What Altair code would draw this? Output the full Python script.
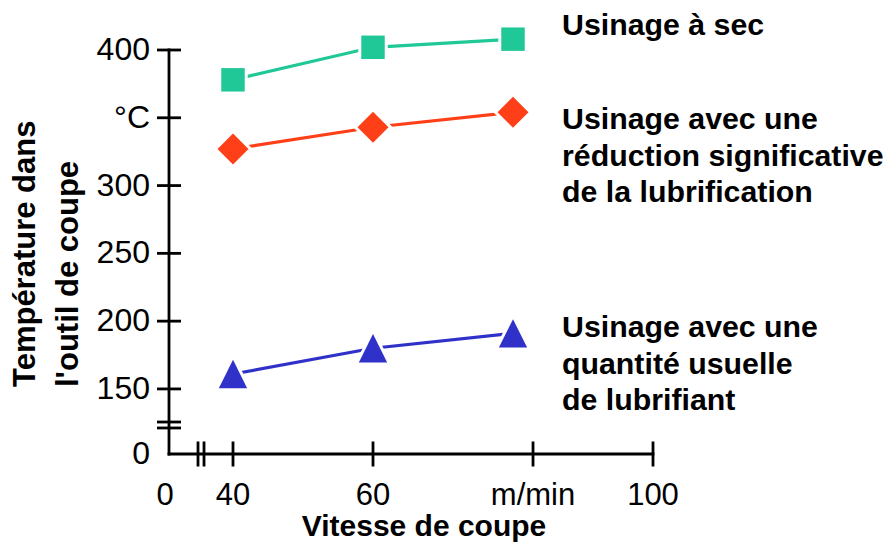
import altair as alt
import pandas as pd

# ---- data ----
SPEEDS = [40, 60, 80]
TEMP_DRY = [378, 402, 408]
TEMP_REDUCED = [327, 343, 354]
TEMP_USUAL = [161, 180, 191]
SERIES = ["sec", "reduite", "usuelle"]
COLORS = ["#1fc896", "#ff3f17", "#2f31c9"]
SHAPES = ["square", "diamond", "M0,-1L1,1L-1,1Z"]
SIZES = [550, 961, 800]

X_MIN, X_MAX = 30.857, 100
Y_MIN, Y_MAX = 102, 400

Y_TICKS = [150, 200, 250, 300, 350, 400]
Y_TICK_LABELS = ["150", "200", "250", "300", "°C", "400"]
X_TICKS = [40, 60, 82.86, 100]
X_LABEL_POS = [30.3, 40, 60, 82.86, 100]
X_LABELS = ["0", "40", "60", "m/min", "100"]
Y_BREAK = [125.6, 121.2]
X_BREAK = [35.0, 35.86]

FONT = "Liberation Sans"

xs = alt.Scale(domain=[X_MIN, X_MAX], nice=False, zero=False)
ys = alt.Scale(domain=[Y_MIN, Y_MAX], nice=False, zero=False)


def X(f):
    return alt.X(f, type="quantitative", scale=xs, axis=None)


def Y(f):
    return alt.Y(f, type="quantitative", scale=ys, axis=None)


rows = []
for s, temps in zip(SERIES, [TEMP_DRY, TEMP_REDUCED, TEMP_USUAL]):
    for v, t in zip(SPEEDS, temps):
        rows.append({"series": s, "speed": v, "temp": t})
df = pd.DataFrame(rows)

layers = []

# axis lines
axis_df = pd.DataFrame({"x": [X_MIN], "x2": [X_MAX], "y": [Y_MIN], "y2": [Y_MAX]})
layers.append(alt.Chart(axis_df).mark_rule(color="black", strokeWidth=2.8, strokeCap="square")
              .encode(x=X("x"), y=Y("y"), y2=alt.Y2("y2")))
layers.append(alt.Chart(axis_df).mark_rule(color="black", strokeWidth=2.8, strokeCap="square")
              .encode(x=X("x"), x2=alt.X2("x2"), y=Y("y")))

# y ticks and break marks (crossing the axis)
yt_df = pd.DataFrame({"x": [X_MIN] * (len(Y_TICKS) + len(Y_BREAK)), "v": Y_TICKS + Y_BREAK})
layers.append(alt.Chart(yt_df).mark_tick(orient="horizontal", size=24, thickness=2.8,
                                         color="black", opacity=1)
              .encode(x=X("x"), y=Y("v")))
# x ticks and break marks
xt_df = pd.DataFrame({"y": [Y_MIN] * (len(X_TICKS) + len(X_BREAK)), "v": X_TICKS + X_BREAK})
layers.append(alt.Chart(xt_df).mark_tick(orient="vertical", size=25, thickness=2.8,
                                         color="black", opacity=1)
              .encode(x=X("v"), y=Y("y")))

# tick labels
yl_df = pd.DataFrame({"x": [X_MIN] * (len(Y_TICKS) + 1), "v": Y_TICKS + [Y_MIN],
                      "label": Y_TICK_LABELS + ["0"]})
layers.append(alt.Chart(yl_df).mark_text(align="right", baseline="middle", dx=-19,
                                         font=FONT, fontSize=32, color="black")
              .encode(x=X("x"), y=Y("v"), text="label:N"))
xl_df = pd.DataFrame({"y": [Y_MIN] * len(X_LABEL_POS), "v": X_LABEL_POS, "label": X_LABELS})
layers.append(alt.Chart(xl_df).mark_text(align="center", baseline="alphabetic", dy=51,
                                         font=FONT, fontSize=31, color="black")
              .encode(x=X("v"), y=Y("y"), text="label:N"))

# lines
layers.append(alt.Chart(df).mark_line(strokeWidth=3.2)
              .encode(x=X("speed"), y=Y("temp"),
                      color=alt.Color("series:N", scale=alt.Scale(domain=SERIES, range=COLORS),
                                      legend=None)))

# markers with white halo
for s, c, sh, sz in zip(SERIES, COLORS, SHAPES, SIZES):
    sdf = df[df["series"] == s]
    layers.append(alt.Chart(sdf).mark_point(filled=True, fill="white", stroke="white",
                                            strokeWidth=6, opacity=1, shape=sh, size=sz)
                  .encode(x=X("speed"), y=Y("temp")))
    layers.append(alt.Chart(sdf).mark_point(filled=True, fill=c, strokeWidth=0, opacity=1,
                                            shape=sh, size=sz)
                  .encode(x=X("speed"), y=Y("temp")))

one = pd.DataFrame({"k": [0]})

# annotations
ANNOT = [
    (["Usinage à sec"], -15),
    (["Usinage avec une", "réduction significative", "de la lubrification"], 79),
    (["Usinage avec une", "quantité usuelle", "de lubrifiant"], 287),
]
for lines, ypix in ANNOT:
    layers.append(alt.Chart(one).mark_text(text=lines, align="left", baseline="alphabetic",
                                           font=FONT, fontSize=30.3, fontWeight="bold",
                                           lineHeight=36.5, color="black")
                  .encode(x=alt.value(393), y=alt.value(ypix)))

# axis titles
layers.append(alt.Chart(one).mark_text(text="Vitesse de coupe", align="center",
                                       baseline="alphabetic", font=FONT, fontSize=30,
                                       fontWeight="bold", color="black")
              .encode(x=alt.value(255), y=alt.value(486)))
layers.append(alt.Chart(one).mark_text(text=["Température dans", "l'outil de coupe"],
                                       align="left", baseline="alphabetic", angle=270,
                                       font=FONT, fontSize=31, fontWeight="bold",
                                       lineHeight=43, color="black")
              .encode(x=alt.value(-134), y=alt.value(337)))

chart = alt.layer(*layers).properties(
    width=484, height=404,
    padding={"left": 161, "top": 42, "right": 234, "bottom": 89},
    autosize=alt.AutoSizeParams(type="none"),
    background="white",
).configure_view(stroke=None)

chart.save("out.html", embed_options={"renderer": "svg", "actions": False})
